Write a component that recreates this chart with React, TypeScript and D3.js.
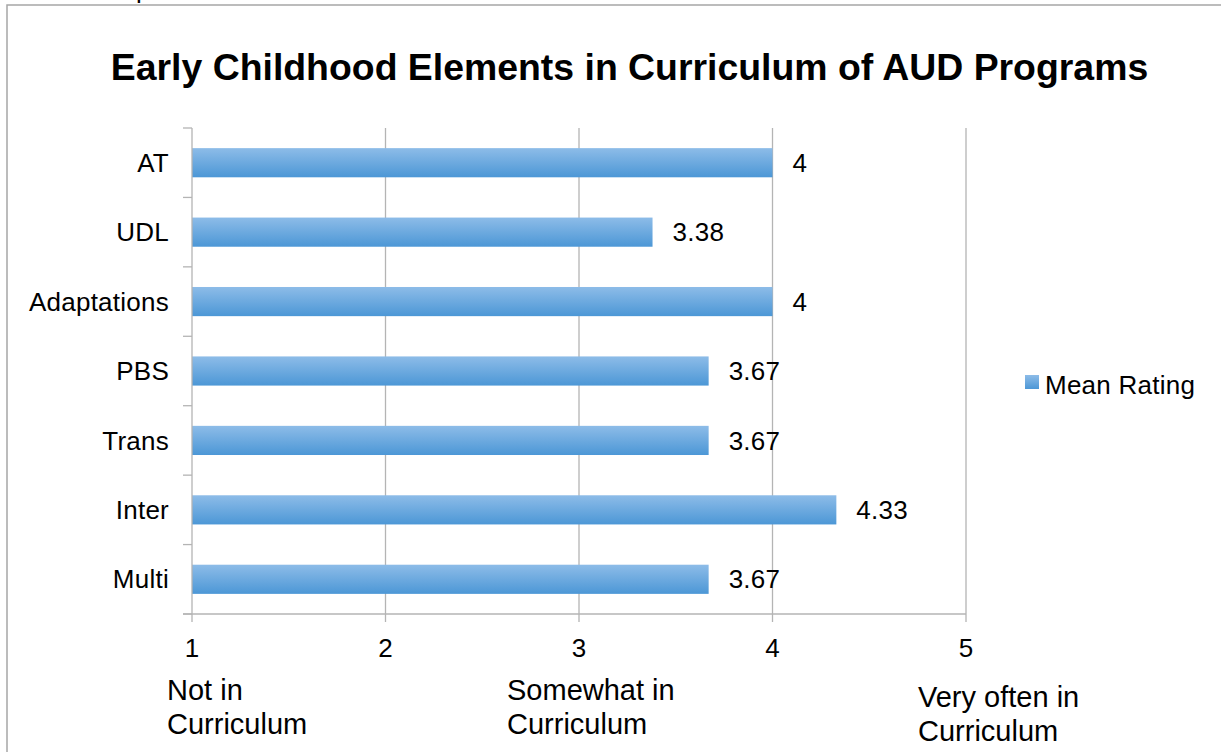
import React from "react";
import * as d3 from "d3";

const categories = ["AT", "UDL", "Adaptations", "PBS", "Trans", "Inter", "Multi"];
const meanRating = [4, 3.38, 4, 3.67, 3.67, 4.33, 3.67];
const valueLabels = ["4", "3.38", "4", "3.67", "3.67", "4.33", "3.67"];
const xTicks = [1, 2, 3, 4, 5];
const title = "Early Childhood Elements in Curriculum of AUD Programs";
const seriesName = "Mean Rating";
const axisNotes = [
  { lines: ["Not in", "Curriculum"], at: 1 },
  { lines: ["Somewhat in", "Curriculum"], at: 3 },
  { lines: ["Very often in", "Curriculum"], at: 5 },
];

const W = 1221;
const H = 752;
const FONT = "'Liberation Sans', Arial, Helvetica, sans-serif";
const FS = 26;
const LS = 0.25;

export default function App() {
  const x = d3.scaleLinear().domain([1, 5]).range([192, 966]);
  const y = d3.scaleBand().domain(categories).range([128, 614]).paddingInner(0).paddingOuter(0);
  const step = y.step();
  const barH = step * 0.42;
  const grid = "#b4b4b4";
  const bounds = d3.range(categories.length + 1).map((i) => 128 + i * step);
  const noteX = [167, 507, 918];
  const noteY = [700, 700, 707];

  return (
    <div style={{ position: "fixed", left: 0, top: 0, width: W, height: H, background: "#fff" }}>
      <svg width={W} height={H} style={{ display: "block", fontFamily: FONT }}>
        <defs>
          <linearGradient id="barGrad" x1="0" y1="0" x2="0" y2="1">
            <stop offset="0" stopColor="#8dbce8" />
            <stop offset="1" stopColor="#4c97d6" />
          </linearGradient>
        </defs>
        <rect x={7} y={5} width={1400} height={900} fill="#fff" stroke="#a6a6a6" strokeWidth={1.5} />
        <text x={136} y={-2} fontSize={26} fill="#000">p</text>

        <text x={629.5} y={80} textAnchor="middle" fontSize={37.4} fontWeight="bold" fill="#000">
          {title}
        </text>

        {/* gridlines */}
        {xTicks.slice(1).map((t) => (
          <line key={"g" + t} x1={x(t)} x2={x(t)} y1={128} y2={614} stroke={grid} strokeWidth={1.3} />
        ))}

        {/* bars */}
        {categories.map((c, i) => {
          const cy = (y(c) as number) + step / 2;
          return (
            <rect
              key={c}
              x={x(1)}
              y={cy - barH / 2}
              width={x(meanRating[i]) - x(1)}
              height={barH}
              fill="url(#barGrad)"
            />
          );
        })}

        {/* left axis */}
        <line x1={x(1)} x2={x(1)} y1={128} y2={614} stroke={grid} strokeWidth={1.3} />
        {bounds.map((b, i) => (
          <line key={"yt" + i} x1={183} x2={x(1)} y1={b} y2={b} stroke={grid} strokeWidth={1.3} />
        ))}
        {/* bottom axis */}
        <line x1={183} x2={x(5)} y1={614} y2={614} stroke={grid} strokeWidth={1.3} />
        {xTicks.map((t) => (
          <line key={"xt" + t} x1={x(t)} x2={x(t)} y1={614} y2={622} stroke={grid} strokeWidth={1.3} />
        ))}

        {/* category labels */}
        {categories.map((c) => (
          <text
            key={"l" + c}
            x={169}
            y={(y(c) as number) + step / 2}
            dy="0.35em"
            textAnchor="end"
            fontSize={FS}
            letterSpacing={LS}
            fill="#000"
          >
            {c}
          </text>
        ))}

        {/* value labels */}
        {categories.map((c, i) => (
          <text
            key={"v" + c}
            x={x(meanRating[i]) + 20}
            y={(y(c) as number) + step / 2}
            dy="0.35em"
            fontSize={FS}
            letterSpacing={LS}
            fill="#000"
          >
            {valueLabels[i]}
          </text>
        ))}

        {/* x tick labels */}
        {xTicks.map((t) => (
          <text key={"xl" + t} x={x(t)} y={657} textAnchor="middle" fontSize={FS} fill="#000">
            {t}
          </text>
        ))}

        {/* axis notes */}
        {axisNotes.map((n, i) => (
          <text key={"n" + i} x={noteX[i]} y={noteY[i]} fontSize={29} fill="#000">
            {n.lines.map((ln, j) => (
              <tspan key={j} x={noteX[i]} dy={j === 0 ? 0 : 34}>
                {ln}
              </tspan>
            ))}
          </text>
        ))}

        {/* legend */}
        <rect x={1025} y={375} width={14} height={14} fill="url(#barGrad)" />
        <text x={1045} y={394} fontSize={FS} letterSpacing={LS} fill="#000">
          {seriesName}
        </text>
      </svg>
    </div>
  );
}
